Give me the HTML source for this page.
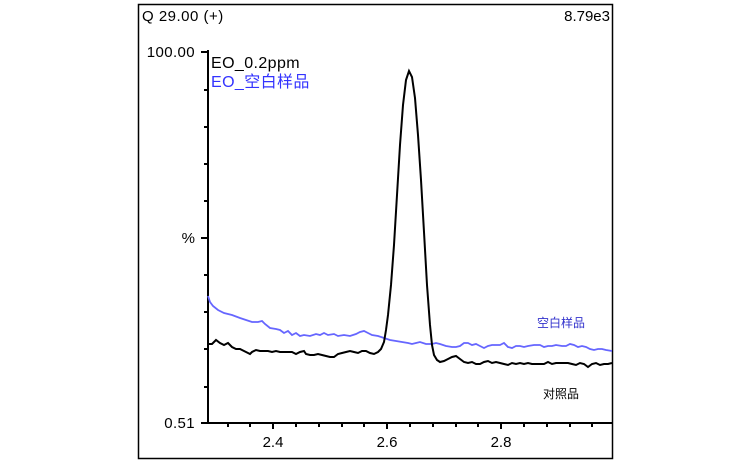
<!DOCTYPE html>
<html><head><meta charset="utf-8"><style>
html,body{margin:0;padding:0;background:#fff;}
svg{display:block;}
text{font-family:"Liberation Sans","Noto Sans CJK SC",sans-serif;}
</style></head><body>
<svg width="756" height="468" viewBox="0 0 756 468" xmlns="http://www.w3.org/2000/svg">
<rect x="138.5" y="4.5" width="474" height="454" fill="none" stroke="#000" stroke-width="1.5"/>
<text x="142" y="21" font-size="15" fill="#000" letter-spacing="0.5">Q 29.00 (+)</text>
<text x="610" y="21" font-size="15" fill="#000" text-anchor="end">8.79e3</text>
<text x="211" y="68" font-size="16" fill="#000" letter-spacing="0.4">EO_0.2ppm</text>
<text x="211" y="87" font-size="16" fill="#3333ff" letter-spacing="0.4">EO_空白样品</text>
<text x="537" y="327" font-size="12" fill="#3333cc">空白样品</text>
<text x="543" y="398" font-size="12" fill="#000">对照品</text>
<text x="195" y="57" font-size="15" fill="#000" text-anchor="end" letter-spacing="0.4">100.00</text>
<text x="195" y="243" font-size="15" fill="#000" text-anchor="end">%</text>
<text x="195" y="428" font-size="15" fill="#000" text-anchor="end" letter-spacing="0.4">0.51</text>
<text x="273" y="447" font-size="15" fill="#000" text-anchor="middle">2.4</text>
<text x="387" y="447" font-size="15" fill="#000" text-anchor="middle">2.6</text>
<text x="501" y="447" font-size="15" fill="#000" text-anchor="middle">2.8</text>
<g stroke="#000" stroke-width="2">
<line x1="208" y1="50" x2="208" y2="424"/>
<line x1="207" y1="423" x2="612" y2="423"/>
<path d="M201 52H208M204 90H208M204 127H208M204 164H208M204 201H208M201 238H208M204 275H208M204 312H208M204 349H208M204 387H208M201 423H208"/>
<path d="M228 423V427M250 423V427M273 423V429M296 423V427M319 423V427M342 423V427M364 423V427M387 423V429M410 423V427M433 423V427M456 423V427M478 423V427M501 423V429M524 423V427M547 423V427M570 423V427M592 423V427"/>
</g>
<polyline fill="none" stroke="#6666ff" stroke-width="1.8" points="208,296 210,302 213,306 218,310 224,313 232,315 240,318 246,320 252,322 258,322 262,321 265,324 270,328 276,329 280,330 284,333 288,331 292,335 296,333 300,336 304,335 310,336 316,334 320,335 324,333 328,335 334,334 338,336 344,335 350,336 356,334 360,332 364,331 368,333 372,335 378,336 384,338 390,340 396,341 402,342 408,343 412,344 416,343 420,342 426,344 432,344 436,343 440,344 446,346 452,347 456,347 460,346 464,343 468,343 472,345 476,344 480,346 484,348 488,346 492,345 496,345 500,345 504,343 508,347 512,348 516,346 520,346 524,347 528,346 534,345 540,345 544,347 548,346 552,346 556,345 562,346 566,346 570,344 574,345 578,347 582,346 586,347 590,349 594,350 598,349 602,349 606,350 612,351"/>
<polyline fill="none" stroke="#000" stroke-width="2" points="208,344 212,344 216,340 220,343 224,345 228,343 232,347 236,349 240,349 244,351 248,353 250,354 252,352 256,350 260,351 264,351 268,351 272,352 276,351 280,352 284,352 288,352 292,352 296,354 300,352 304,351 306,354 310,355 314,355 318,354 322,355 326,356 330,357 334,357 338,354 342,353 346,352 350,351 354,352 358,353 362,351 366,351 370,353 374,354 378,352 381,349 384,342 386,330 388,315 391,285 394,245 397,195 400,145 403,105 406,80 409,71 412,77 415,98 418,135 421,180 424,232 427,285 430,325 432,345 434,355 437,360 440,362 444,361 448,359 452,357 456,356 460,359 464,362 468,363 472,362 476,364 480,364 484,362 488,361 492,363 496,362 500,363 504,364 508,365 512,363 516,364 520,363 524,364 528,363 532,364 536,364 540,364 544,364 548,362 552,364 556,363 560,363 564,363 568,363 572,364 576,365 580,363 584,364 588,367 592,364 596,363 600,365 604,364 608,364 612,363"/>
</svg>
</body></html>
